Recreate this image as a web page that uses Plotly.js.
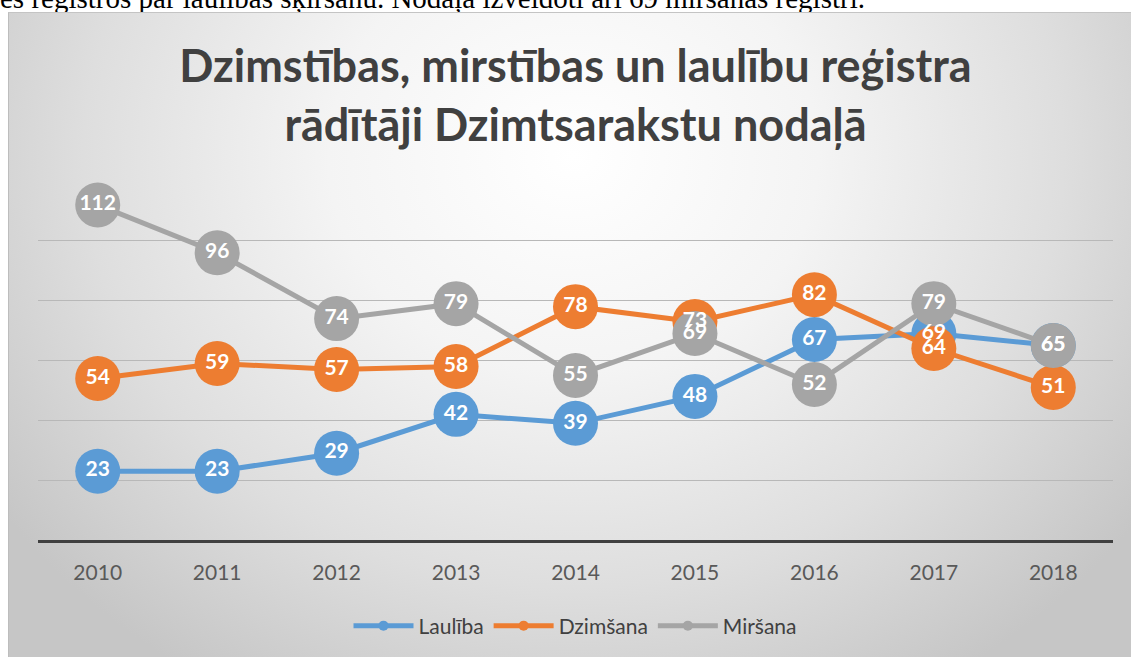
<!DOCTYPE html>
<html>
<head>
<meta charset="utf-8">
<script src="https://cdn.plot.ly/plotly-3.0.1.min.js"></script>
<style>
  html, body { margin: 0; padding: 0; background: #ffffff; width: 1131px; height: 657px; overflow: hidden; }
  #doctext { position: absolute; left: 0; top: -18px; font-family: "Liberation Serif", serif; font-size: 29px; color: #000; white-space: nowrap; }
  #frame { position: absolute; left: 8px; top: 12px; width: 1130px; height: 650px; box-sizing: border-box; border-left: 1px solid #bdbdbd; border-top: 1px solid #c4c4c4;
    background: radial-gradient(ellipse 62% 95% at 50% 22%, #ffffff 0%, #f4f4f4 35%, #dedede 70%, #c6c6c6 100%); }
  #chart { position: absolute; left: 0; top: 0; width: 1131px; height: 657px; }
</style>
</head>
<body>
<div id="doctext">es reģistros par laulības šķiršanu. Nodaļa izveidoti arī 69 miršanas reģistri.</div>
<div id="frame"></div>
<div id="chart"></div>
<script>
const years = ['2010', '2011', '2012', '2013', '2014', '2015', '2016', '2017', '2018'];
const laulibaValues = [23, 23, 29, 42, 39, 48, 67, 69, 65];
const dzimsanaValues = [54, 59, 57, 58, 78, 73, 82, 64, 51];
const mirsanaValues = [112, 96, 74, 79, 55, 69, 52, 79, 65];
const seriesNames = ['Laulība', 'Dzimšana', 'Miršana'];
const seriesColors = ['#5B9BD5', '#ED7D31', '#A5A5A5'];
const chartTitle = 'Dzimstības, mirstības un laulību reģistra<br>rādītāji Dzimtsarakstu nodaļā';

const allValues = [laulibaValues, dzimsanaValues, mirsanaValues];
const traces = [];
// line + marker traces
allValues.forEach((vals, i) => {
  traces.push({
    x: years, y: vals, type: 'scatter', mode: 'lines+markers',
    name: seriesNames[i], showlegend: false, cliponaxis: false, hoverinfo: 'skip',
    line: { color: seriesColors[i], width: 5 },
    marker: { color: seriesColors[i], size: 45 }
  });
});
// data labels on top of all markers
allValues.forEach((vals, i) => {
  traces.push({
    x: years, y: vals, type: 'scatter', mode: 'text',
    text: vals.map(String), textposition: 'middle center',
    textfont: { family: 'Lato, sans-serif', size: 21, color: '#ffffff', weight: 'bold' },
    showlegend: false, cliponaxis: false, hoverinfo: 'skip'
  });
});
// legend entries
seriesNames.forEach((nm, i) => {
  traces.push({
    x: [null], y: [null], type: 'scatter', mode: 'lines+markers', name: nm,
    line: { color: seriesColors[i], width: 5 }, marker: { color: seriesColors[i], size: 10 },
    hoverinfo: 'skip'
  });
});

const layout = {
  width: 1131, height: 657,
  margin: { l: 38, r: 18, t: 181, b: 116 },
  paper_bgcolor: 'rgba(0,0,0,0)', plot_bgcolor: 'rgba(0,0,0,0)',
  title: {
    text: chartTitle, x: 0.5, xref: 'paper', y: 1 - 82 / 657, yref: 'container', yanchor: 'middle',
    font: { family: 'Lato, sans-serif', size: 45, color: '#404040', weight: 'bold' }
  },
  xaxis: {
    type: 'category', range: [-0.5, 8.5], showgrid: false, zeroline: false,
    showline: true, linecolor: '#404040', linewidth: 3, ticks: '',
    tickfont: { family: 'Lato, sans-serif', size: 21, color: '#595959' },
    ticklabelstandoff: 12, fixedrange: true
  },
  yaxis: {
    range: [0, 120], dtick: 20, showgrid: true, gridcolor: '#b8b8b8', gridwidth: 1,
    zeroline: false, showline: false, showticklabels: false, ticks: '', fixedrange: true
  },
  showlegend: true,
  legend: {
    orientation: 'h', x: 0.5, xanchor: 'center', y: (541 - 626) / 360, yanchor: 'middle',
    font: { family: 'Lato, sans-serif', size: 21, color: '#404040' },
    bgcolor: 'rgba(0,0,0,0)', itemwidth: 60, traceorder: 'normal'
  },
  hovermode: false
};

Plotly.newPlot('chart', traces, layout, { staticPlot: true, displayModeBar: false });
</script>
</body>
</html>
